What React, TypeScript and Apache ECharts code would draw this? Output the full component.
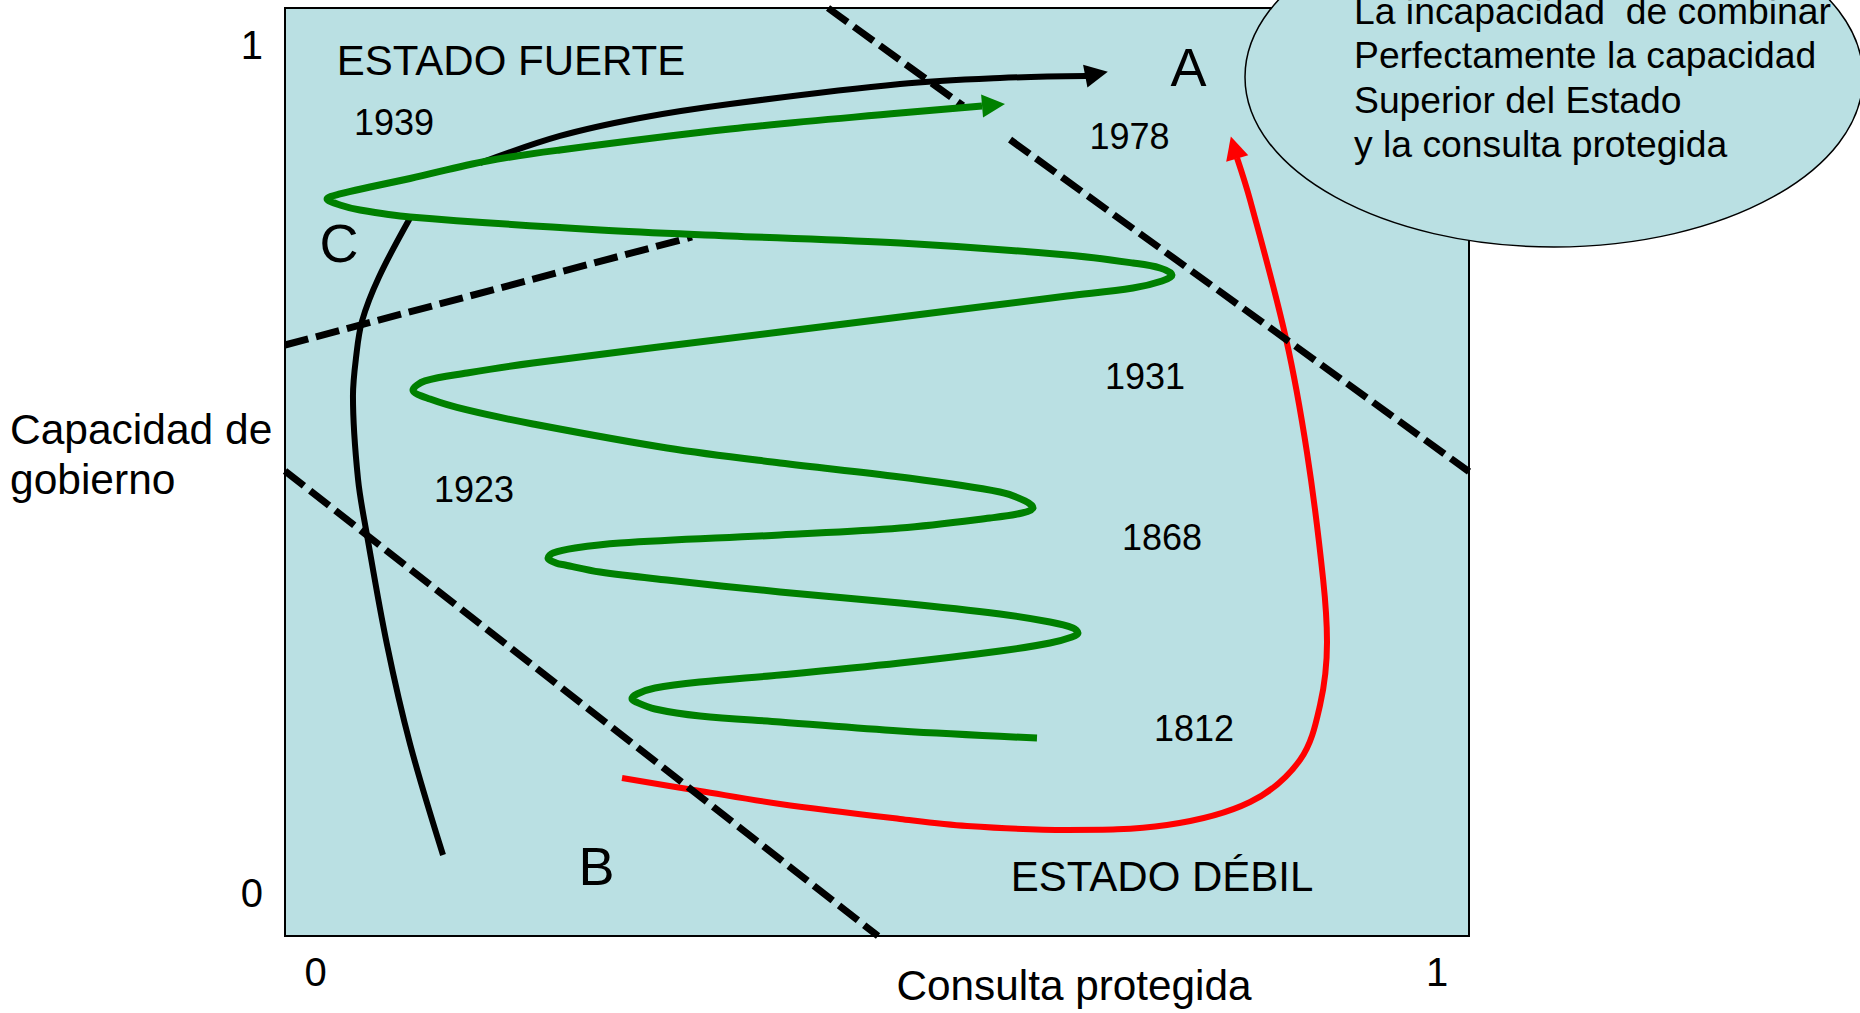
import React, { useEffect, useRef } from 'react';
import * as echarts from 'echarts';

// ---------- data (chart units: 0..1 on both axes) ----------
const xTickValues = [0, 1];
const yTickValues = [0, 1];
const xRange = [-0.0272, 1.0285];
const yRange = [-0.0507, 1.0436];

const xAxisTitle = 'Consulta protegida';
const yAxisTitle = 'Capacidad de\ngobierno';

// black curve (split where it passes under the green loop)
const blackLower = [
  [0.1137, 0.0448], [0.0843, 0.1757], [0.0638, 0.2925], [0.0459, 0.4222],
  [0.0379, 0.4882], [0.0334, 0.5861], [0.0361, 0.6309], [0.0415, 0.6745],
  [0.0566, 0.7264], [0.0843, 0.7960],
];
const blackUpper = [
  [0.1467, 0.8608], [0.2180, 0.8927], [0.2893, 0.9139], [0.3696, 0.9304],
  [0.5212, 0.9540], [0.6103, 0.9611], [0.6870, 0.9634], [0.7058, 0.9682],
];

const greenPath = [
  [0.6433, 0.1828], [0.5212, 0.1910], [0.4142, 0.2017], [0.3428, 0.2087],
  [0.3027, 0.2170], [0.2858, 0.2252], [0.2822, 0.2288], [0.2867, 0.2347],
  [0.3027, 0.2417], [0.3428, 0.2488], [0.4142, 0.2571], [0.5212, 0.2712],
  [0.6103, 0.2854], [0.6549, 0.2948], [0.6745, 0.3019], [0.6799, 0.3066],
  [0.6754, 0.3125], [0.6549, 0.3196], [0.6103, 0.3290], [0.5212, 0.3420],
  [0.4142, 0.3550], [0.3134, 0.3691], [0.2537, 0.3785], [0.2225, 0.3868],
  [0.2144, 0.3892], [0.2073, 0.3950], [0.2118, 0.4009], [0.2314, 0.4068],
  [0.2715, 0.4127], [0.4142, 0.4222], [0.5212, 0.4304], [0.6014, 0.4422],
  [0.6300, 0.4481], [0.6398, 0.4540], [0.6326, 0.4623], [0.6103, 0.4729],
  [0.5212, 0.4906], [0.4142, 0.5071], [0.3134, 0.5248], [0.1939, 0.5531],
  [0.1351, 0.5696], [0.1021, 0.5825], [0.0869, 0.5932], [0.0976, 0.6038],
  [0.1351, 0.6132], [0.1939, 0.6250], [0.4142, 0.6616], [0.5212, 0.6792],
  [0.6701, 0.7040], [0.7289, 0.7134], [0.7548, 0.7217], [0.7637, 0.7288],
  [0.7530, 0.7370], [0.7289, 0.7429], [0.6701, 0.7524], [0.5212, 0.7665],
  [0.3696, 0.7748], [0.2537, 0.7818], [0.0843, 0.7972], [0.0397, 0.8054],
  [0.0218, 0.8113], [0.0103, 0.8184], [0.0218, 0.8243], [0.0486, 0.8325],
  [0.0843, 0.8426], [0.1529, 0.8632], [0.2180, 0.8762], [0.3696, 0.9009],
  [0.5212, 0.9198], [0.5943, 0.9281], [0.6148, 0.9304],
];

const redPath = [
  [0.2733, 0.1356], [0.3428, 0.1203], [0.4142, 0.1050], [0.5212, 0.0873],
  [0.5809, 0.0790], [0.6701, 0.0743], [0.7592, 0.0802], [0.8333, 0.1073],
  [0.8778, 0.1568], [0.8957, 0.2217], [0.9019, 0.2960], [0.8984, 0.3703],
  [0.8841, 0.5189], [0.8654, 0.6533], [0.8333, 0.8172], [0.8217, 0.8667],
  [0.8163, 0.8915],
];

const dashUpperLeft = [[-0.0272, 0.6462], [0.3357, 0.7736]];
const dashTopRightA = [[0.4570, 1.0436], [0.5773, 0.9284]];
const dashTopRightB = [[0.6193, 0.8883], [1.0285, 0.4969]];
const dashLower = [[-0.0272, 0.4976], [0.5016, -0.0507]];

const yearLabels: [string, number, number][] = [
  ['1939', 0.0700, 0.9080], ['1978', 0.7258, 0.8915], ['1931', 0.7396, 0.6085],
  ['1923', 0.1413, 0.4764], ['1868', 0.7548, 0.4198], ['1812', 0.7833, 0.1934],
];
const letterLabels: [string, number, number][] = [
  ['A', 0.7784, 0.9746], ['B', 0.2506, 0.0324], ['C', 0.0210, 0.7659],
];
const regionLabels: [string, number, number][] = [
  ['ESTADO FUERTE', 0.1743, 0.9817], ['ESTADO DÉBIL', 0.7548, 0.0200],
];

const bubbleLines = [
  'La incapacidad  de combinar',
  'Perfectamente la capacidad',
  'Superior del Estado',
  'y la consulta protegida',
];

// ---------- styles ----------
const FONT = '"Liberation Sans", Arial, Helvetica, sans-serif';
const BG = '#BAE0E3';
const GRID = { left: 285, top: 8, width: 1184, height: 928 };
const PX_X = GRID.width / (xRange[1] - xRange[0]);
const PX_Y = GRID.height / (yRange[1] - yRange[0]);

function arrowHead(path: number[][]) {
  const n = path.length;
  const tip = path[n - 1];
  const base = path[n - 2];
  const dx = (tip[0] - base[0]) * PX_X;
  const dy = (tip[1] - base[1]) * PX_Y;
  const ang = (Math.atan2(dy, dx) * 180) / Math.PI;
  return {
    value: [(tip[0] + base[0]) / 2, (tip[1] + base[1]) / 2],
    symbolRotate: ang - 90,
  };
}

function curve(data: number[][], color: string, width: number, z: number, smooth = 0.35) {
  return {
    type: 'line',
    data,
    smooth,
    symbol: 'none',
    showSymbol: false,
    z,
    silent: true,
    clip: true,
    lineStyle: { color, width, cap: 'butt', join: 'round', opacity: 1 },
  };
}

function dashed(data: number[][]) {
  return {
    type: 'line',
    data,
    symbol: 'none',
    showSymbol: false,
    z: 3,
    silent: true,
    lineStyle: { color: '#000', width: 7, type: [24, 8], cap: 'butt', opacity: 1 },
  };
}

function head(path: number[][], color: string, z: number) {
  return {
    type: 'scatter',
    data: [arrowHead(path)],
    symbol: 'triangle',
    symbolSize: [23, 23],
    z,
    silent: true,
    clip: false,
    itemStyle: { color, opacity: 1 },
  };
}

function labels(items: [string, number, number][], fontSize: number) {
  return {
    type: 'scatter',
    data: items.map(([name, x, y]) => ({ name, value: [x, y] })),
    symbol: 'circle',
    symbolSize: 1,
    z: 6,
    silent: true,
    clip: false,
    itemStyle: { color: 'rgba(0,0,0,0)', opacity: 1 },
    label: {
      show: true,
      position: 'inside',
      formatter: '{b}',
      color: '#000',
      opacity: 1,
      textBorderWidth: 0,
      fontSize,
      fontFamily: FONT,
    },
  };
}

export default function App() {
  const ref = useRef<HTMLDivElement>(null);

  useEffect(() => {
    if (!ref.current) return;
    const chart = echarts.init(ref.current, null, { renderer: 'svg' });
    const option: any = {
      animation: false,
      backgroundColor: '#ffffff',
      textStyle: { fontFamily: FONT },
      grid: {
        ...GRID,
        show: true,
        backgroundColor: BG,
        borderColor: '#000',
        borderWidth: 2,
        containLabel: false,
        outerBoundsMode: 'none',
      },
      xAxis: {
        type: 'value',
        min: xRange[0],
        max: xRange[1],
        axisLine: { show: false },
        axisTick: { show: false },
        splitLine: { show: false },
        axisLabel: {
          show: true,
          customValues: xTickValues,
          fontSize: 40,
          color: '#000',
          fontFamily: FONT,
          margin: 16,
        },
      },
      yAxis: {
        type: 'value',
        min: yRange[0],
        max: yRange[1],
        axisLine: { show: false },
        axisTick: { show: false },
        splitLine: { show: false },
        axisLabel: {
          show: true,
          customValues: yTickValues,
          fontSize: 40,
          color: '#000',
          fontFamily: FONT,
          margin: 22,
        },
      },
      series: [
        curve(redPath.slice(0, -1), '#FF0000', 6, 2),
        head(redPath, '#FF0000', 2),
        dashed(dashUpperLeft),
        dashed(dashTopRightA),
        dashed(dashTopRightB),
        dashed(dashLower),
        curve(blackLower, '#000000', 6, 4),
        curve(blackUpper.slice(0, -1), '#000000', 6, 4),
        head(blackUpper, '#000000', 4),
        curve(greenPath.slice(0, -1), '#008000', 7, 5),
        head(greenPath, '#008000', 5),
        labels(yearLabels, 36),
        labels(letterLabels, 54),
        labels(regionLabels, 42),
      ],
      graphic: [
        {
          type: 'text',
          x: 10,
          y: 454,
          z: 50,
          style: {
            text: yAxisTitle,
            fontSize: 42.5,
            fontFamily: FONT,
            fill: '#000',
            lineHeight: 50,
            align: 'left',
            verticalAlign: 'middle',
          },
        },
        {
          type: 'text',
          x: 1074,
          y: 985,
          z: 50,
          style: {
            text: xAxisTitle,
            fontSize: 42.3,
            fontFamily: FONT,
            fill: '#000',
            align: 'center',
            verticalAlign: 'middle',
          },
        },
        {
          type: 'ellipse',
          z: 100,
          shape: { cx: 1554, cy: 77, rx: 309, ry: 170 },
          style: { fill: BG, stroke: '#000', lineWidth: 1.5 },
        },
        ...bubbleLines.map((t, i) => ({
          type: 'text',
          x: 1354,
          y: 11 + i * 44.3,
          z: 101,
          style: {
            text: t,
            fontSize: 37.3,
            fontFamily: FONT,
            fill: '#000',
            align: 'left',
            verticalAlign: 'middle',
          },
        })),
      ],
    };
    chart.setOption(option);
    return () => chart.dispose();
  }, []);

  return (
    <div
      ref={ref}
      style={{ position: 'absolute', left: 0, top: 0, width: 1860, height: 1013, background: '#fff' }}
    />
  );
}
